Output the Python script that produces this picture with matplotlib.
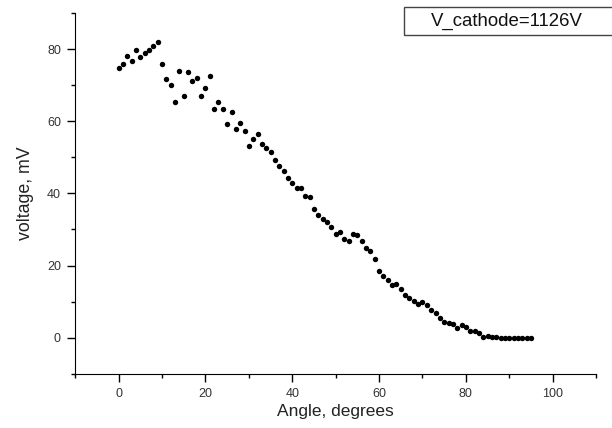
import numpy as np
import matplotlib.pyplot as plt
from matplotlib.patches import Rectangle
from matplotlib.ticker import MultipleLocator

plt.rcParams['font.family'] = ['Liberation Sans', 'DejaVu Sans']

# angolo (gradi) e tensione (mV)
angolo = list(range(0, 96))
tensione = [74.8, 75.8, 78.1, 76.8, 79.8, 77.8, 78.9, 79.7, 80.8, 82.1,
            75.9, 71.8, 70.0, 65.5, 73.9, 67.1, 73.7, 71.2, 71.9, 67.0,
            69.4, 72.5, 63.3, 65.3, 63.3, 59.2, 62.5, 58.0, 59.5, 57.4,
            53.1, 55.1, 56.5, 53.8, 52.5, 51.4, 49.4, 47.5, 46.1, 44.3,
            43.0, 41.4, 41.6, 39.4, 38.9, 35.8, 34.1, 32.9, 32.0, 30.8,
            28.7, 29.2, 27.3, 26.9, 28.7, 28.5, 26.9, 25.0, 23.9, 21.9,
            18.5, 17.2, 16.1, 14.7, 15.0, 13.5, 11.9, 11.0, 10.1, 9.4,
            10.0, 9.1, 7.7, 6.8, 5.4, 4.3, 4.1, 3.8, 2.7, 3.5,
            2.9, 1.7, 1.8, 1.3, 0.3, 0.4, 0.2, 0.1, 0.0, -0.1,
            -0.1, -0.1, 0.0, -0.1, 0.0, 0.0]

etichetta = "V_cathode=1126V"

fig = plt.figure(figsize=(6.12, 4.28), dpi=100)
ax = fig.add_axes([0.123, 0.127, 0.851, 0.842])

ax.plot(angolo, tensione, 'o', color='black', markersize=3.9, markeredgewidth=0)

ax.set_xlim(-10, 110)
ax.set_ylim(-10, 90)
ax.xaxis.set_minor_locator(MultipleLocator(10))
ax.yaxis.set_minor_locator(MultipleLocator(10))
ax.set_xticks([0, 20, 40, 60, 80, 100])
ax.set_yticks([0, 20, 40, 60, 80])
ax.tick_params(which='major', direction='out', length=5.8, width=1, labelsize=9,
               labelcolor='#333333', pad=4.5)
ax.tick_params(which='minor', direction='out', length=3, width=1)

for s in ['top', 'right']:
    ax.spines[s].set_visible(False)

ax.set_xlabel("Angle, degrees", fontsize=12.5, labelpad=3, color='#222222')
ax.set_ylabel("voltage, mV", fontsize=12.8, labelpad=9, color='#222222')

# riquadro etichetta in alto a destra
fig.patches.append(Rectangle((0.66, 0.918), 0.4, 0.066, transform=fig.transFigure,
                             facecolor='white', edgecolor='#444444', linewidth=1))
fig.text(0.829, 0.951, etichetta, fontsize=13.4, ha='center', va='center',
         color='#111111')

fig.savefig("out.png", dpi=100)
